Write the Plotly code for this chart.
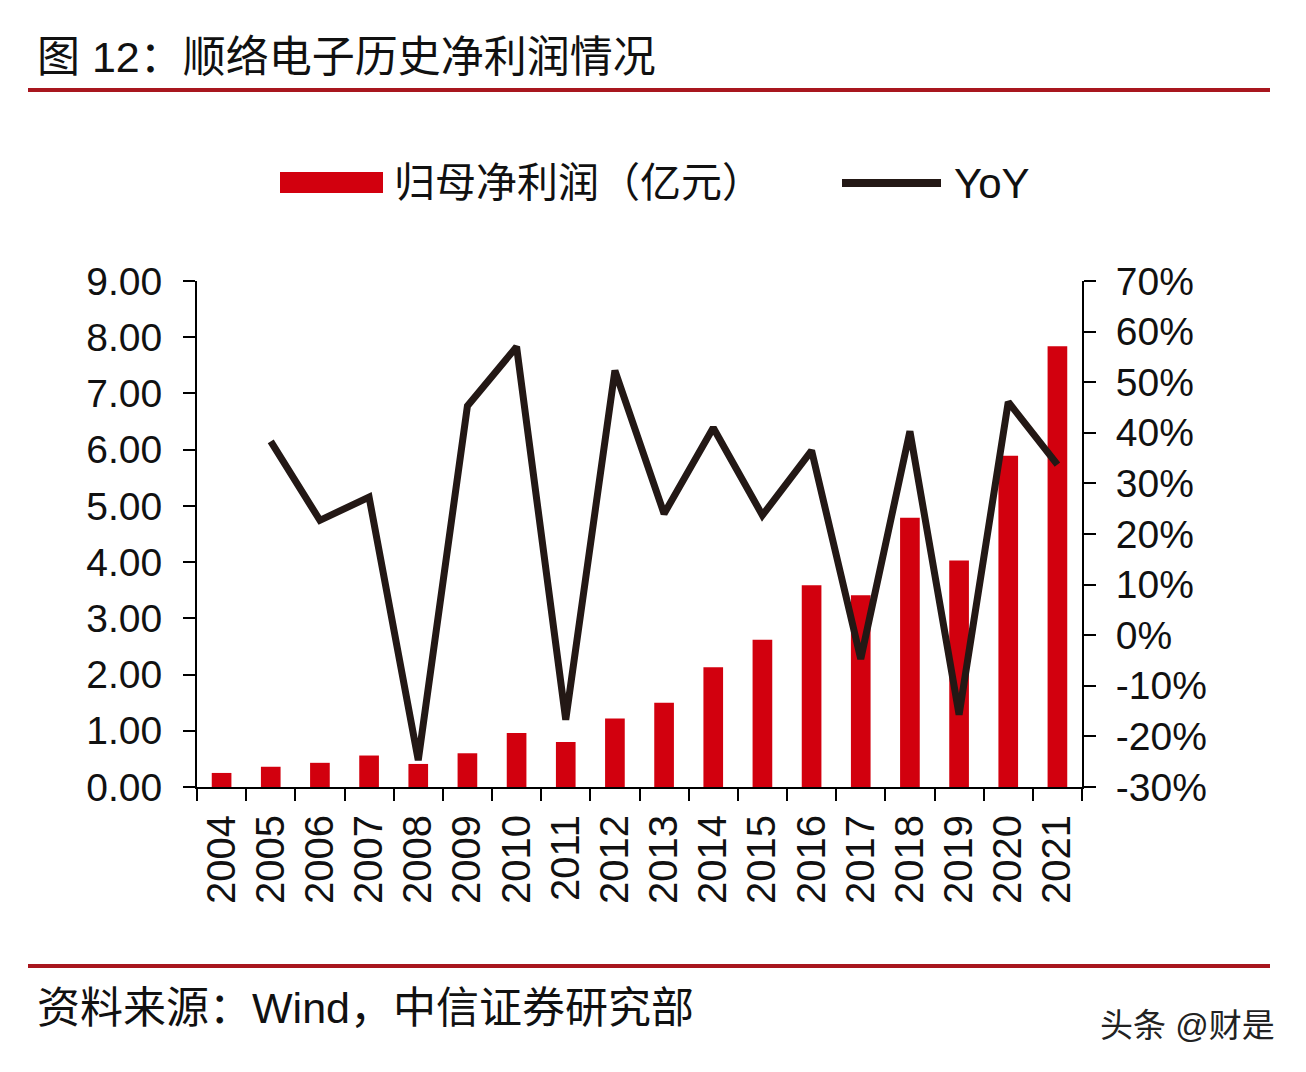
import plotly.graph_objects as go

# ---- data ----
years = ["2004", "2005", "2006", "2007", "2008", "2009", "2010", "2011", "2012",
         "2013", "2014", "2015", "2016", "2017", "2018", "2019", "2020", "2021"]
net_profit = [0.25, 0.36, 0.43, 0.56, 0.41, 0.60, 0.96, 0.80, 1.22,
              1.50, 2.13, 2.62, 3.59, 3.41, 4.79, 4.03, 5.89, 7.84]
yoy = [None, 0.383, 0.227, 0.273, -0.247, 0.453, 0.570, -0.167, 0.523,
       0.240, 0.410, 0.237, 0.365, -0.047, 0.403, -0.157, 0.461, 0.337]

left_ticks = [0, 1, 2, 3, 4, 5, 6, 7, 8, 9]
left_labels = ["0.00", "1.00", "2.00", "3.00", "4.00", "5.00", "6.00", "7.00", "8.00", "9.00"]
right_ticks = [-0.3, -0.2, -0.1, 0.0, 0.1, 0.2, 0.3, 0.4, 0.5, 0.6, 0.7]
right_labels = ["-30%", "-20%", "-10%", "0%", "10%", "20%", "30%", "40%", "50%", "60%", "70%"]

bar_name = "归母净利润（亿元）"
line_name = "YoY"
title_text = "图 12：顺络电子历史净利润情况"
source_text = "资料来源：Wind，中信证券研究部"
watermark = "头条 @财是"

# ---- style ----
W, H = 1306, 1072
OFF = 8  # page body margin
BAR_COLOR = "#D2000E"
LINE_COLOR = "#231815"
RULE_COLOR = "#A8161E"
FONT = "Liberation Sans, Arial, Noto Sans CJK SC, sans-serif"
CJK = "Liberation Sans, Noto Sans CJK SC, sans-serif"
TXT = "#111111"

def px(x):
    return (x - OFF) / W

def py(y):
    return 1 - (y - OFF) / H

plot_l, plot_r, plot_t, plot_b = 197, 1082, 281, 787

fig = go.Figure()
fig.add_trace(go.Bar(x=years, y=net_profit, name=bar_name, marker_color=BAR_COLOR,
                     marker_line_width=0, width=0.4, yaxis="y", showlegend=False))
fig.add_trace(go.Scatter(x=years, y=yoy, name=line_name, mode="lines",
                         line=dict(color=LINE_COLOR, width=7), yaxis="y2",
                         connectgaps=False, showlegend=False))

axis_common = dict(showline=True, linecolor="#000000", linewidth=2, ticks="outside",
                   tickcolor="#000000", tickwidth=2, ticklen=12, showgrid=False,
                   zeroline=False, automargin=False,
                   tickfont=dict(family=FONT, size=39, color=TXT))

fig.update_layout(
    width=W, height=H,
    margin=dict(l=0, r=0, t=0, b=0, pad=0, autoexpand=False),
    paper_bgcolor="white", plot_bgcolor="white",
    showlegend=False,
    xaxis=dict(domain=[px(plot_l), px(plot_r)], type="category", tickangle=-90,
               tickson="boundaries", ticklabelstandoff=10,
               **{**axis_common, "tickfont": dict(family=FONT, size=40, color=TXT)}),
    yaxis=dict(domain=[py(plot_b), py(plot_t)], range=[0, 9], tickvals=left_ticks,
               ticktext=left_labels, ticklabelstandoff=13, **axis_common),
    yaxis2=dict(domain=[py(plot_b), py(plot_t)], range=[-0.3, 0.7], overlaying="y",
                side="right", anchor="x", tickvals=right_ticks, ticktext=right_labels,
                ticklabelstandoff=12, **axis_common),
)

shapes = [
    # header and footer rules
    dict(type="line", xref="paper", yref="paper", x0=px(28), x1=px(1270), y0=py(90), y1=py(90),
         line=dict(color=RULE_COLOR, width=4)),
    dict(type="line", xref="paper", yref="paper", x0=px(28), x1=px(1270), y0=py(966), y1=py(966),
         line=dict(color=RULE_COLOR, width=4)),
    # legend keys
    dict(type="rect", xref="paper", yref="paper", x0=px(280), x1=px(383), y0=py(193), y1=py(172),
         fillcolor=BAR_COLOR, line=dict(width=0)),
    dict(type="line", xref="paper", yref="paper", x0=px(842), x1=px(941), y0=py(183), y1=py(183),
         line=dict(color=LINE_COLOR, width=8)),
]
fig.update_layout(shapes=shapes)

annotations = [
    dict(text=title_text, x=px(35), y=py(57), xanchor="left", yanchor="middle",
         font=dict(family=CJK, size=43, color=TXT)),
    dict(text=bar_name, x=px(392), y=py(183), xanchor="left", yanchor="middle",
         font=dict(family=CJK, size=41, color=TXT)),
    dict(text=line_name, x=px(952), y=py(183), xanchor="left", yanchor="middle",
         font=dict(family=FONT, size=42, color=TXT)),
    dict(text=source_text, x=px(35), y=py(1008), xanchor="left", yanchor="middle",
         font=dict(family=CJK, size=43, color=TXT)),
    dict(text=watermark, x=px(1277), y=py(1025), xanchor="right", yanchor="middle",
         font=dict(family=CJK, size=33, color="#222222")),
]
for a in annotations:
    a.update(xref="paper", yref="paper", showarrow=False)
fig.update_layout(annotations=annotations)

fig.write_html("out.html")
